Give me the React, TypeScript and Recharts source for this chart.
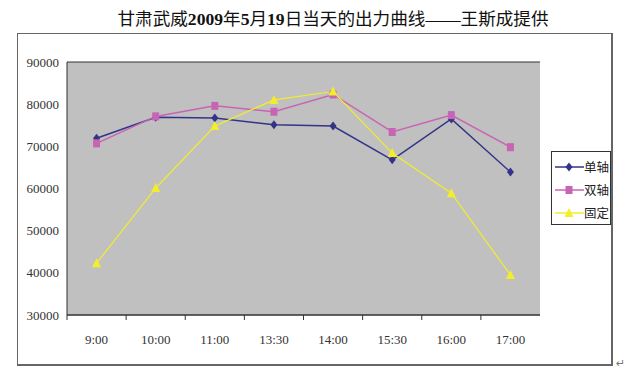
import React from "react";
import {
  ComposedChart,
  Line,
  XAxis,
  YAxis,
  CartesianGrid,
} from "recharts";

const categories = ["9:00", "10:00", "11:00", "13:30", "14:00", "15:30", "16:00", "17:00"];
const singleAxis = [71900, 76900, 76700, 75100, 74800, 66800, 76500, 63900];
const dualAxis = [70700, 77100, 79600, 78200, 82300, 73400, 77400, 69800];
const fixedMount = [42300, 60100, 74800, 81000, 83000, 68400, 58900, 39500];
const yTicks = [30000, 40000, 50000, 60000, 70000, 80000, 90000];
const seriesNames = ["单轴", "双轴", "固定"];
const titleText = "甘肃武威2009年5月19日当天的出力曲线——王斯成提供";

const data = categories.map((c, i) => ({
  time: c,
  s1: singleAxis[i],
  s2: dualAxis[i],
  s3: fixedMount[i],
}));

const COLORS = ["#333388", "#c864b4", "#f2ee2a"];

const Diamond = (props: any) => {
  const { cx, cy, fill } = props;
  if (cx == null || cy == null) return null;
  return <path d={`M${cx},${cy - 4.5}L${cx + 3.5},${cy}L${cx},${cy + 4.5}L${cx - 3.5},${cy}Z`} fill={fill} />;
};
const Square = (props: any) => {
  const { cx, cy, fill } = props;
  if (cx == null || cy == null) return null;
  return <rect x={cx - 3.5} y={cy - 4} width={7} height={8} fill={fill} />;
};
const Triangle = (props: any) => {
  const { cx, cy, fill } = props;
  if (cx == null || cy == null) return null;
  return <path d={`M${cx},${cy - 5}L${cx + 4.5},${cy + 4}L${cx - 4.5},${cy + 4}Z`} fill={fill} />;
};

const XTick = (props: any) => {
  const { x, y, payload } = props;
  const off = payload && payload.offset ? payload.offset : 0;
  return (
    <g>
      <line x1={x - off} y1={y} x2={x - off} y2={y + 5} stroke="#333" />
      <text
        x={x}
        y={y + 29}
        textAnchor="middle"
        fontFamily="'Liberation Serif', serif"
        fontSize={13}
        fill="#333"
      >
        {payload.value}
      </text>
    </g>
  );
};

const LegendBox = () => {
  const markers = [
    <path d="M15,2.5L18.5,7L15,11.5L11.5,7Z" fill={COLORS[0]} />,
    <rect x={11.5} y={3} width={7} height={8} fill={COLORS[1]} />,
    <path d="M15,2L19.5,11L10.5,11Z" fill={COLORS[2]} />,
  ];
  return (
    <div
      style={{
        position: "absolute",
        left: 551,
        top: 151,
        width: 60,
        height: 74,
        boxSizing: "border-box",
        border: "1px solid #333",
        background: "#fff",
        paddingTop: 3,
      }}
    >
      {seriesNames.map((n, i) => (
        <div key={n} style={{ display: "flex", alignItems: "center", height: 23, whiteSpace: "nowrap" }}>
          <svg width={30} height={14} style={{ marginLeft: 2, flex: "none" }}>
            <line x1={1} y1={7} x2={30} y2={7} stroke={COLORS[i]} strokeWidth={1.5} />
            {markers[i]}
          </svg>
          <span
            style={{
              fontFamily: "'Noto Sans CJK SC', sans-serif",
              fontSize: 12.5,
              color: "#222",
              lineHeight: "14px",
            }}
          >
            {n}
          </span>
        </div>
      ))}
    </div>
  );
};

const titleParts = titleText.split(/(\d+)/).filter((s) => s.length > 0);

export default function App() {
  return (
    <div style={{ position: "absolute", left: 0, top: 0, width: 626, height: 379, background: "#fff" }}>
      <div
        style={{
          position: "absolute",
          left: 17,
          top: 33,
          width: 596,
          height: 333,
          border: "1px solid #666",
          borderRightWidth: 2,
          borderBottomWidth: 2,
          boxSizing: "border-box",
        }}
      />
      <div
        style={{
          position: "absolute",
          left: 0,
          width: 666,
          top: 5,
          textAlign: "center",
          whiteSpace: "nowrap",
          fontFamily: "'Liberation Serif', 'Noto Sans CJK SC', serif",
          fontSize: 17.6,
          color: "#111",
        }}
      >
        {titleParts.map((p, i) =>
          /^\d+$/.test(p) ? (
            <b key={i}>{p}</b>
          ) : (
            <span key={i}>{p}</span>
          )
        )}
      </div>
      <div style={{ position: "absolute", left: 616, top: 357, fontSize: 11, color: "#777", fontFamily: "'DejaVu Sans', sans-serif" }}>
        ↵
      </div>
      <div style={{ position: "absolute", left: 0, top: 0 }}>
        <ComposedChart
          width={626}
          height={379}
          data={data}
          margin={{ top: 62, right: 86, left: 0, bottom: 34 }}
        >
          <CartesianGrid vertical={false} horizontal={true} stroke="#333" fill="#c0c0c0" fillOpacity={1} />
          <XAxis
            dataKey="time"
            scale="band"
            height={30}
            tickLine={false}
            tickSize={0}
            tickMargin={0}
            axisLine={{ stroke: "#333" }}
            tick={<XTick />}
            interval={0}
          />
          <YAxis
            yAxisId="0"
            width={67}
            domain={[30000, 90000]}
            ticks={yTicks}
            tickLine={false}
            tickSize={0}
            tickMargin={8}
            axisLine={{ stroke: "#333" }}
            tick={{ fontFamily: "'Liberation Serif', serif", fontSize: 13, fill: "#333" }}
            interval={0}
          />
          <YAxis
            yAxisId="r"
            orientation="right"
            width={0}
            tick={false}
            tickLine={false}
            axisLine={{ stroke: "#808080" }}
            domain={[30000, 90000]}
          />
          <Line
            yAxisId="0"
            dataKey="s1"
            name={seriesNames[0]}
            stroke={COLORS[0]}
            strokeWidth={1.5}
            dot={<Diamond fill={COLORS[0]} />}
            isAnimationActive={false}
          />
          <Line
            yAxisId="0"
            dataKey="s2"
            name={seriesNames[1]}
            stroke={COLORS[1]}
            strokeWidth={1.5}
            dot={<Square fill={COLORS[1]} />}
            isAnimationActive={false}
          />
          <Line
            yAxisId="0"
            dataKey="s3"
            name={seriesNames[2]}
            stroke={COLORS[2]}
            strokeWidth={1.2}
            dot={<Triangle fill={COLORS[2]} />}
            isAnimationActive={false}
          />
        </ComposedChart>
      </div>
      <LegendBox />
    </div>
  );
}
